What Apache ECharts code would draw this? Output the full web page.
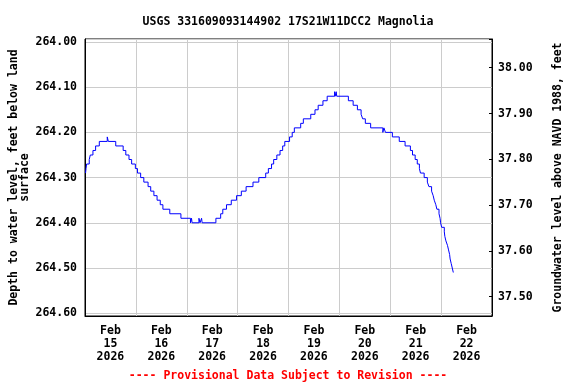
<!DOCTYPE html>
<html>
<head>
<meta charset="utf-8">
<script src="https://cdn.jsdelivr.net/npm/echarts@6/dist/echarts.min.js"></script>
<style>html,body{margin:0;padding:0;background:#fff}#c{width:576px;height:384px}</style>
</head>
<body>
<div id="c"></div>
<script>
// Time in hours since 2026-02-14 00:00 (local), each value holds until the next time
const hoursSinceFeb14 = [12.25,12.5,12.75,14.0,14.5,15.75,17.0,18.75,22.5,23.0,26.5,30.0,31.25,32.75,34.0,35.75,36.75,38.25,39.75,41.75,43.0,44.5,46.0,47.5,48.75,52.0,57.25,61.75,62.25,62.5,65.75,66.25,67.0,67.25,73.75,76.0,77.0,78.75,81.0,83.5,85.75,88.0,91.25,94.0,97.25,98.5,100.0,101.0,102.5,104.0,105.25,106.25,108.5,109.75,110.75,113.75,115.0,118.5,120.5,122.0,124.25,126.25,129.75,130.0,130.5,130.75,136.25,138.5,140.5,142.25,143.0,144.25,146.75,152.5,153.0,153.75,157.0,160.25,163.0,165.5,166.5,167.75,168.75,169.75,170.25,172.0,173.5,174.25,175.5,176.25,176.75,177.5,178.0,179.0,179.5,179.75,180.25,181.5,181.75,182.25,183.0,183.5,184.0,184.25,184.75,185.25,185.75];
const depthFt = [264.29,264.28,264.27,264.26,264.25,264.24,264.23,264.22,264.21,264.22,264.23,264.24,264.25,264.26,264.27,264.28,264.29,264.30,264.31,264.32,264.33,264.34,264.35,264.36,264.37,264.38,264.39,264.40,264.39,264.40,264.39,264.40,264.39,264.40,264.39,264.38,264.37,264.36,264.35,264.34,264.33,264.32,264.31,264.30,264.29,264.28,264.27,264.26,264.25,264.24,264.23,264.22,264.21,264.20,264.19,264.18,264.17,264.16,264.15,264.14,264.13,264.12,264.11,264.12,264.11,264.12,264.13,264.14,264.15,264.16,264.17,264.18,264.19,264.20,264.19,264.20,264.21,264.22,264.23,264.24,264.25,264.26,264.27,264.28,264.29,264.30,264.31,264.32,264.33,264.34,264.35,264.36,264.37,264.38,264.39,264.40,264.41,264.42,264.43,264.44,264.45,264.46,264.47,264.48,264.49,264.50,264.51];
const xTickLabels = ['Feb\n15\n2026','Feb\n16\n2026','Feb\n17\n2026','Feb\n18\n2026','Feb\n19\n2026','Feb\n20\n2026','Feb\n21\n2026','Feb\n22\n2026'];
const titleText = 'USGS 331609093144902 17S21W11DCC2 Magnolia';
const leftAxisName = 'Depth to water level, feet below land\nsurface';
const rightAxisName = 'Groundwater level above NAVD 1988, feet';
const footerText = '---- Provisional Data Subject to Revision ----';

const FONT = 'DejaVu Sans Mono';
const isTenth = v => Math.abs(v * 10 - Math.round(v * 10)) < 1e-6;
const chart = echarts.init(document.getElementById('c'), null, {renderer: 'canvas'});
const data = hoursSinceFeb14.map((h, i) => [h, depthFt[i]]);

chart.setOption({
  animation: false,
  backgroundColor: '#fff',
  title: [
    {text: titleText, left: 'center', top: 11,
     textStyle: {fontFamily: FONT, fontWeight: 'bold', fontSize: 11.5, color: '#000'}},
    {text: footerText, left: 'center', top: 365,
     textStyle: {fontFamily: FONT, fontWeight: 'bold', fontSize: 11.5, color: '#ff0000'}}
  ],
  grid: {left: 85, top: 39, width: 407, height: 277, show: true, borderColor: '#000', borderWidth: 1,
         backgroundColor: '#fff', containLabel: false, outerBoundsMode: 'none'},
  xAxis: [
    {type: 'value', min: 12, max: 204, interval: 12, position: 'bottom',
     axisLine: {show: true, lineStyle: {color: '#000'}}, axisTick: {show: false}, splitLine: {show: false},
     axisLabel: {margin: 9, fontFamily: FONT, fontWeight: 'bold', fontSize: 11.5, color: '#000', lineHeight: 12.7,
       formatter: v => (v % 24 === 0 ? (xTickLabels[v / 24 - 1] || '') : '')}},
    {type: 'value', min: 12, max: 204, interval: 24, position: 'bottom',
     axisLine: {show: false}, axisTick: {show: false}, axisLabel: {show: false},
     splitLine: {show: true, lineStyle: {color: '#cccccc', width: 1}}}
  ],
  yAxis: [
    {type: 'value', inverse: true, min: 263.9934, max: 264.6062, splitNumber: 6, minInterval: 0.1, maxInterval: 0.1,
     position: 'left',
     name: leftAxisName, nameLocation: 'middle', nameRotate: 90, nameGap: 54, nameMoveOverlap: false,
     nameTextStyle: {fontFamily: FONT, fontWeight: 'bold', fontSize: 11.5, color: '#000', lineHeight: 11.5, align: 'center'},
     axisLine: {show: true, lineStyle: {color: '#000'}}, axisTick: {show: false},
     splitLine: {show: true, lineStyle: {color: '#cccccc', width: 1}},
     axisLabel: {margin: 8, fontFamily: FONT, fontWeight: 'bold', fontSize: 11.5, color: '#000',
       formatter: v => (isTenth(v) ? v.toFixed(2) : '')}},
    {type: 'value', min: 37.4579, max: 38.0627, splitNumber: 6, minInterval: 0.1, maxInterval: 0.1,
     position: 'right',
     name: rightAxisName, nameLocation: 'middle', nameRotate: 90, nameGap: 60, nameMoveOverlap: false,
     nameTextStyle: {fontFamily: FONT, fontWeight: 'bold', fontSize: 11.5, color: '#000'},
     axisLine: {show: true, lineStyle: {color: '#000'}},
     axisTick: {show: true, inside: true, length: 3, lineStyle: {color: '#000'}},
     splitLine: {show: false},
     axisLabel: {margin: 6, fontFamily: FONT, fontWeight: 'bold', fontSize: 11.5, color: '#000',
       formatter: v => (isTenth(v) ? v.toFixed(2) : '')}}
  ],
  series: [{
    type: 'line', xAxisIndex: 0, yAxisIndex: 0, data: data, step: 'end',
    showSymbol: false, symbol: 'none',
    lineStyle: {color: '#0000ff', width: 1}, itemStyle: {color: '#0000ff'}
  }]
});
</script>
</body>
</html>
